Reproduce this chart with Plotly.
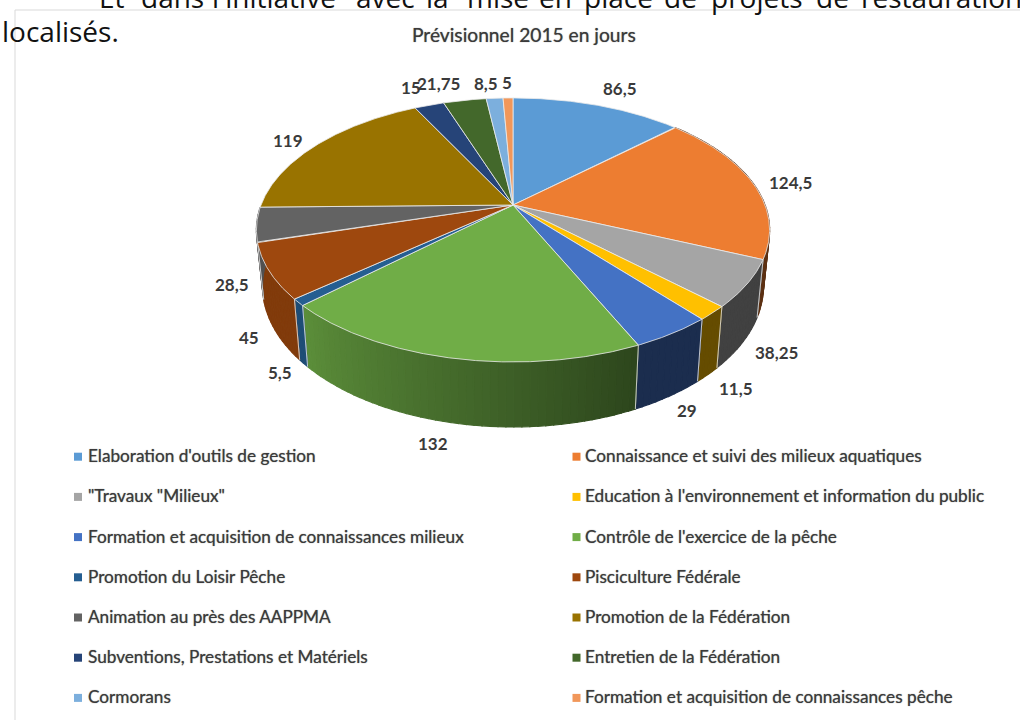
import numpy as np
import plotly.graph_objects as go

categories = ["Elaboration d'outils de gestion", "Connaissance et suivi des milieux aquatiques",
              "\"Travaux \"Milieux\"", "Education à l'environnement et information du public",
              "Formation et acquisition de connaissances milieux", "Contrôle de l'exercice de la pêche",
              "Promotion du Loisir Pêche", "Pisciculture Fédérale",
              "Animation au près des AAPPMA", "Promotion de la Fédération",
              "Subventions, Prestations et Matériels", "Entretien de la Fédération",
              "Cormorans", "Formation et acquisition de connaissances pêche"]
values = [86.5, 124.5, 38.25, 11.5, 29, 132, 5.5, 45, 28.5, 119, 15, 21.75, 8.5, 5]
value_labels = ["86,5", "124,5", "38,25", "11,5", "29", "132", "5,5", "45", "28,5", "119", "15", "21,75", "8,5", "5"]
colors = ["#5b9bd5", "#ed7d31", "#a5a5a5", "#ffc000", "#4472c4", "#70ad47", "#255e91",
          "#9e480e", "#636363", "#997300", "#264478", "#43682b", "#7cafdd", "#f1975a"]
label_xy = [(620, 88), (790, 182), (776, 352), (736, 388), (687, 410), (433, 443), (280, 372),
            (249, 337), (232, 284), (288, 140), (411, 87), (438, 83), (486, 83), (507, 82)]
title = "Prévisionnel 2015 en jours"
body_words = [("Et", 98), ("dans", 140), ("l'initiative", 211), ("avec", 355), ("la", 425), ("mise", 466),
              ("en", 538), ("place", 583), ("de", 663), ("projets", 710), ("de", 815), ("restauration", 860)]

CX, CY, A, B, K = 513, 205, 252, 127.3, 0.189
TEXT = "#3a3a3a"
FONT = "Lato"
SOFT = "0 0 1px rgba(60,60,60,0.7)"


def project(deg):
    t = np.radians(deg)
    u, v = np.sin(t), np.cos(t)
    f = 1 / (1 + K * v)
    return CX + A * u * f, CY - B * v * f


def lower(x, y):
    return CX + 0.976 * (x - CX), CY + 54.3 + 1.068 * (y - CY)


def shade(hex_color, deg):
    factor = np.interp(deg, [0, 155, 226, 360], [0.38, 0.40, 0.82, 0.82])
    rgb = [int(hex_color[i:i + 2], 16) for i in (1, 3, 5)]
    return "rgb(%d,%d,%d)" % tuple(int(c * factor) for c in rgb)


fig = go.Figure()
edges = np.cumsum([0] + values) / sum(values) * 360
EDGE = "rgba(235,235,235,0.8)"

# side wall
for i, color in enumerate(colors):
    a0, a1 = edges[i], edges[i + 1]
    if a1 < 90 or a0 > 265:
        continue
    steps = max(2, int((a1 - a0) / 1.5))
    grid = np.linspace(a0, a1, steps + 1)
    for s in range(steps):
        xt, yt = project(np.array([grid[s], grid[s + 1]]))
        xb, yb = lower(xt, yt)
        fc = shade(color, (grid[s] + grid[s + 1]) / 2)
        fig.add_trace(go.Scatter(x=[xt[0], xt[1], xb[1], xb[0], xt[0]], y=[yt[0], yt[1], yb[1], yb[0], yt[0]],
                                 mode="lines", fill="toself", fillcolor=fc,
                                 line=dict(color=fc, width=1.2), hoverinfo="skip", showlegend=False))
    for a in (a0, a1):
        if 100 < a < 255:
            xt, yt = project(a)
            xb, yb = lower(xt, yt)
            fig.add_trace(go.Scatter(x=[xt, xb], y=[yt, yb], mode="lines", line=dict(color=EDGE, width=1),
                                     hoverinfo="skip", showlegend=False))

# top faces
for i, (name, color) in enumerate(zip(categories, colors)):
    grid = np.linspace(edges[i], edges[i + 1], max(3, int(values[i] * 2)))
    x, y = project(grid)
    fig.add_trace(go.Scatter(x=np.r_[CX, x, CX], y=np.r_[CY, y, CY], mode="lines", fill="toself",
                             fillcolor=color, line=dict(color=EDGE, width=1), name=name, showlegend=False,
                             hovertemplate=name + ": " + value_labels[i] + "<extra></extra>"))

# legend swatches
rows = [456.7 + 40.2 * (i // 2) for i in range(len(categories))]
sw_x = [78 if i % 2 == 0 else 576.5 for i in range(len(categories))]
fig.add_trace(go.Scatter(x=sw_x, y=rows, mode="markers", hoverinfo="skip", showlegend=False,
                         marker=dict(symbol="square", size=8, color=colors, line=dict(width=0))))

ann = []
for word, x in body_words:
    ann.append(dict(x=x, y=17, text=word, xanchor="left", yanchor="bottom",
                    font=dict(family="Open Sans", size=28, color="#111")))
ann.append(dict(x=1, y=31, text="localisés.", xanchor="left", yanchor="middle",
                font=dict(family="Open Sans", size=28, color="#111")))
ann.append(dict(x=524, y=34, text=title, xanchor="center", yanchor="middle",
                font=dict(family=FONT, size=19.2, color=TEXT, shadow=SOFT)))
for txt, (x, y) in zip(value_labels, label_xy):
    ann.append(dict(x=x, y=y, text=txt, xanchor="center", yanchor="middle",
                    font=dict(family=FONT, size=17, color=TEXT, weight=700)))
for i, name in enumerate(categories):
    ann.append(dict(x=87 if i % 2 == 0 else 584, y=rows[i] - 1, text=name, xanchor="left", yanchor="middle",
                    font=dict(family=FONT, size=17.2, color=TEXT, shadow=SOFT)))
for a in ann:
    a.update(xref="x", yref="y", showarrow=False, borderpad=0, bgcolor="rgba(0,0,0,0)")

shapes = [dict(type="line", xref="x", yref="y", x0=15, x1=15, y0=10, y1=720, line=dict(color="#d9d9d9", width=1), layer="below"),
          dict(type="line", xref="x", yref="y", x0=15, x1=1020, y0=10, y1=10, line=dict(color="#d9d9d9", width=1), layer="below")]

fig.update_layout(width=1020, height=720, margin=dict(l=0, r=0, t=0, b=0), paper_bgcolor="white", plot_bgcolor="white",
                  xaxis=dict(range=[0, 1020], visible=False, fixedrange=True),
                  yaxis=dict(range=[720, 0], visible=False, fixedrange=True),
                  annotations=ann, shapes=shapes, showlegend=False)
fig.write_html("out.html", config=dict(displayModeBar=False),
               post_script="document.body.style.margin='0';document.documentElement.style.overflow='hidden';")
